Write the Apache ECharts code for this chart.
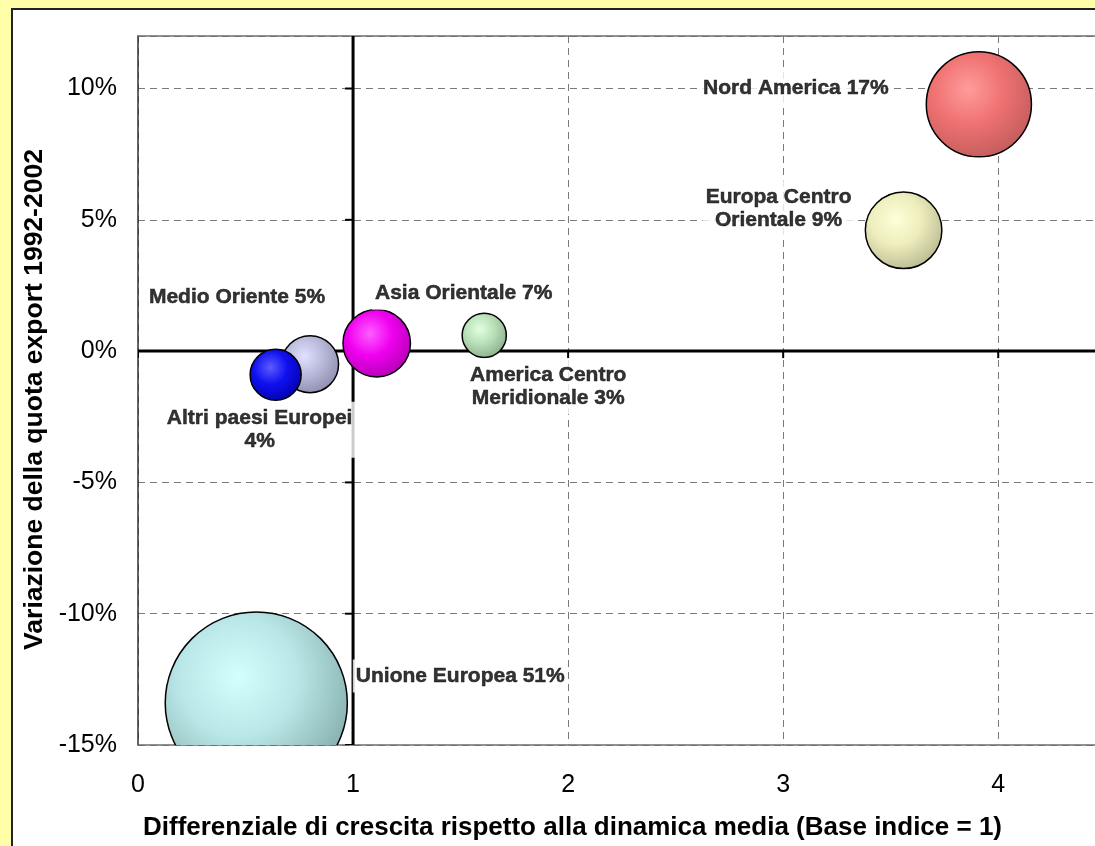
<!DOCTYPE html>
<html>
<head>
<meta charset="utf-8">
<script src="https://cdn.jsdelivr.net/npm/echarts@6/dist/echarts.min.js"></script>
<style>
  html, body { margin: 0; padding: 0; background: #ffffaa; }
  #main { width: 1095px; height: 846px; }
</style>
</head>
<body>
<div id="main"></div>
<script>
// dati
var regions = ['Nord America', 'Europa Centro Orientale', 'Asia Orientale',
  'America Centro Meridionale', 'Medio Oriente', 'Altri paesi Europei', 'Unione Europea'];
var labelTexts = ['Nord America 17%', 'Europa Centro\nOrientale 9%', 'Asia Orientale 7%',
  'America Centro\nMeridionale 3%', 'Medio Oriente 5%', 'Altri paesi Europei\n4%', 'Unione Europea 51%'];
var growthDiff = [3.91, 3.56, 1.11, 1.61, 0.80, 0.64, 0.55];
var shareChange = [9.4, 4.6, 0.3, 0.6, -0.5, -0.9, -13.4];
var exportShare = [17, 9, 7, 3, 5, 4, 51];
var xTicks = [0, 1, 2, 3, 4];
var yTicks = [-15, -10, -5, 0, 5, 10];
var crossX = 1;
var crossY = 0;

var xMin = 0, xMax = 4.45;
var yMin = -15, yMax = 12;

// colori delle bolle (luce, medio, ombra)
var bubbleColors = [
  ['#ff9c9c', '#f07272', '#bd5a5a'],
  ['#ffffda', '#ededbd', '#b5b58e'],
  ['#ff5cff', '#f000f0', '#ac00ac'],
  ['#e0ffe0', '#b9e0b9', '#86a886'],
  ['#e0e0ff', '#babadc', '#8787a6'],
  ['#5c5cff', '#1010f0', '#0000a6'],
  ['#d4ffff', '#b9e6e6', '#7fa8a8']
];
// posizione delle etichette rispetto al centro della bolla
var labelOffsets = [[-183, -16], [-125, -22], [87, -50], [64, 51], [-73, -67], [-16, 55], [204, -27]];

var bubbleData = regions.map(function (r, i) {
  return [growthDiff[i], shareChange[i], exportShare[i], i];
});

var labelData = regions.map(function (r, i) {
  return {
    value: [growthDiff[i], shareChange[i]],
    label: { formatter: labelTexts[i], offset: labelOffsets[i] }
  };
});

var chart = echarts.init(document.getElementById('main'));

var gridLine = { show: true, lineStyle: { color: '#7a7a7a', type: [7, 5], width: 1 } };

var option = {
  backgroundColor: 'transparent',
  animation: false,
  graphic: [{
    type: 'rect',
    left: 11, top: 8,
    z: -10,
    shape: { width: 1200, height: 1000 },
    style: { fill: '#ffffff', stroke: '#222222', lineWidth: 2 }
  }],
  grid: {
    left: 138, top: 36, right: 0, bottom: 99,
    show: false
  },
  xAxis: [{
    type: 'value',
    min: xMin, max: xMax, interval: 1,
    name: 'Differenziale di crescita rispetto alla dinamica media (Base indice = 1)',
    nameLocation: 'middle',
    nameGap: 70,
    nameTextStyle: {
      fontFamily: 'Liberation Sans', fontWeight: 'bold', fontSize: 26, color: '#000',
      padding: [0, 88, 0, 0]
    },
    axisLine: { show: true, onZero: false, lineStyle: { color: '#6e6e6e', width: 1.5 } },
    axisTick: { show: false },
    axisLabel: {
      fontFamily: 'Liberation Sans', fontSize: 25, color: '#000', margin: 28,
      showMaxLabel: false,
      formatter: function (v) { return xTicks.indexOf(v) >= 0 ? String(v) : ''; }
    },
    splitLine: gridLine
  }, {
    // bordo superiore dell'area del grafico
    type: 'value',
    position: 'top',
    min: xMin, max: xMax, interval: 1,
    axisLine: { show: true, onZero: false, lineStyle: { color: '#6e6e6e', width: 1.5 } },
    axisTick: { show: false },
    axisLabel: { show: false },
    splitLine: { show: false }
  }],
  yAxis: {
    type: 'value',
    min: yMin, max: yMax, interval: 5,
    name: 'Variazione della quota export 1992-2002',
    nameLocation: 'middle',
    nameGap: 80,
    nameTextStyle: {
      fontFamily: 'Liberation Sans', fontWeight: 'bold', fontSize: 26.5, color: '#000',
      padding: [0, 18, 0, 0]
    },
    axisLine: { show: true, onZero: false, lineStyle: { color: '#333333', width: 1.5 } },
    axisTick: { show: false },
    axisLabel: {
      fontFamily: 'Liberation Sans', fontSize: 25, color: '#000', margin: 21,
      padding: [4, 0, 0, 0],
      showMaxLabel: false,
      formatter: function (v) { return yTicks.indexOf(v) >= 0 ? v + '%' : ''; }
    },
    splitLine: gridLine
  },
  series: [
    {
      // assi che si incrociano in (1, 0%)
      type: 'custom',
      z: 1,
      clip: true,
      silent: true,
      data: [[crossX, crossY]],
      renderItem: function (params, api) {
        var cx = api.value(0), cy = api.value(1);
        var a = api.coord([cx, yMin]), b = api.coord([cx, yMax]);
        var c = api.coord([xMin, cy]), d = api.coord([xMax, cy]);
        var st = { stroke: '#000', lineWidth: 3 };
        var kids = [
          { type: 'line', shape: { x1: a[0], y1: a[1], x2: b[0], y2: b[1] }, style: st },
          { type: 'line', shape: { x1: c[0], y1: c[1], x2: d[0], y2: d[1] }, style: st }
        ];
        yTicks.forEach(function (t) {
          var p = api.coord([cx, t]);
          kids.push({ type: 'line', shape: { x1: p[0] - 8, y1: p[1], x2: p[0], y2: p[1] }, style: { stroke: '#000', lineWidth: 2 } });
        });
        xTicks.forEach(function (t) {
          var p = api.coord([t, cy]);
          kids.push({ type: 'line', shape: { x1: p[0], y1: p[1], x2: p[0], y2: p[1] + 7 }, style: { stroke: '#000', lineWidth: 2 } });
        });
        return { type: 'group', children: kids };
      }
    },
    {
      // bolle
      type: 'custom',
      z: 2,
      clip: true,
      silent: true,
      data: bubbleData,
      renderItem: function (params, api) {
        var p = api.coord([api.value(0), api.value(1)]);
        var r = Math.sqrt(api.value(2)) * 12.75;
        var col = bubbleColors[api.value(3)];
        return {
          type: 'circle',
          shape: { cx: p[0], cy: p[1], r: r },
          style: {
            fill: new echarts.graphic.RadialGradient(0.4, 0.36, 0.72, [
              { offset: 0, color: col[0] },
              { offset: 0.45, color: col[1] },
              { offset: 1, color: col[2] }
            ]),
            stroke: '#000',
            lineWidth: 1.5
          }
        };
      }
    },
    {
      // etichette
      type: 'scatter',
      z: 3,
      silent: true,
      symbol: 'circle',
      symbolSize: 1,
      itemStyle: { color: 'transparent' },
      data: labelData,
      label: {
        show: true,
        position: 'inside',
        fontFamily: 'Liberation Sans',
        fontWeight: 'bold',
        fontSize: 21,
        lineHeight: 23,
        color: '#000000',
        textBorderColor: '#000000',
        textBorderWidth: 0.5,
        align: 'center',
        backgroundColor: '#ffffff',
        padding: [5, 3]
      }
    }
  ]
};

chart.setOption(option);
</script>
</body>
</html>
